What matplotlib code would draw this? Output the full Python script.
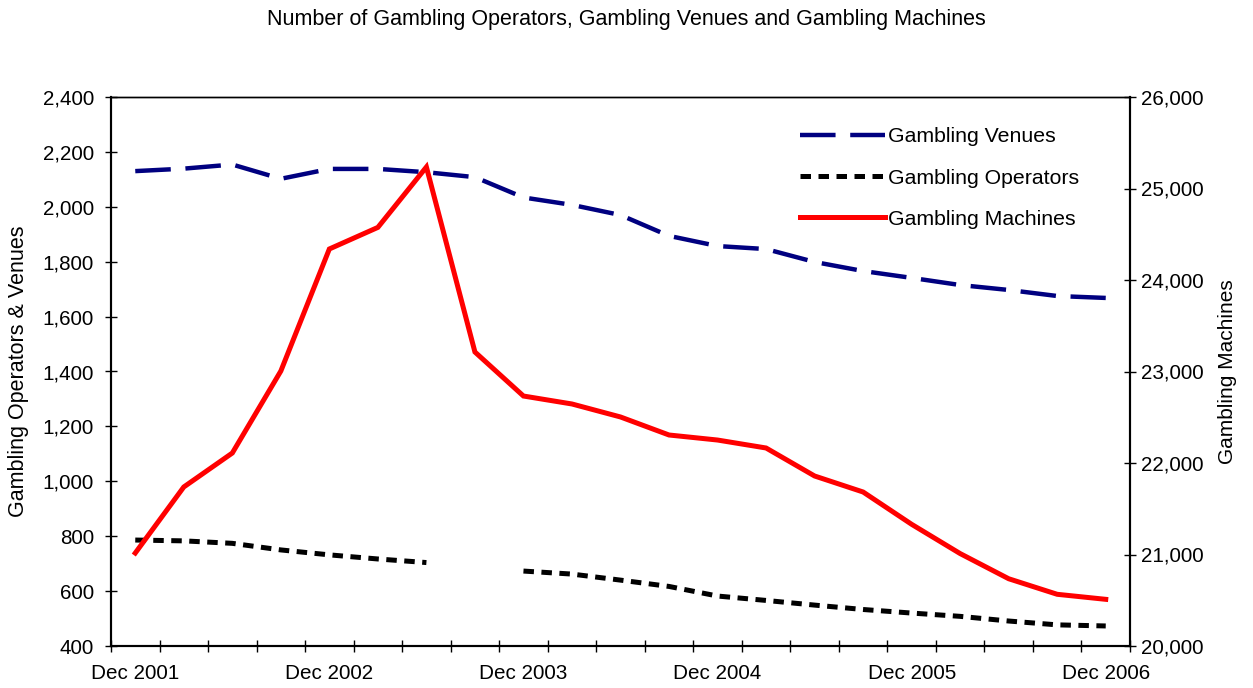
import numpy as np
import matplotlib
matplotlib.use("Agg")
import matplotlib.pyplot as plt
from matplotlib.ticker import FuncFormatter, MultipleLocator

plt.rcParams["font.family"] = ["Liberation Sans", "DejaVu Sans"]

# quarterly points, Dec 2001 .. Dec 2006
quarters = ["Dec 2001", "Mar 2002", "Jun 2002", "Sep 2002",
            "Dec 2002", "Mar 2003", "Jun 2003", "Sep 2003",
            "Dec 2003", "Mar 2004", "Jun 2004", "Sep 2004",
            "Dec 2004", "Mar 2005", "Jun 2005", "Sep 2005",
            "Dec 2005", "Mar 2006", "Jun 2006", "Sep 2006",
            "Dec 2006"]

venues = [2130, 2139, 2154, 2102, 2138, 2138, 2126, 2108, 2034, 2007, 1970,
          1894, 1857, 1846, 1799, 1766, 1741, 1715, 1697, 1675, 1668]
operators = [786, 783, 774, 750, 732, 717, 704, np.nan, 673, 662, 640,
             617, 582, 566, 549, 533, 520, 508, 491, 477, 473]
machines = [21016, 21738, 22109, 23005, 24339, 24575, 25235, 23213, 22732,
            22645, 22503, 22306, 22251, 22164, 21858, 21683, 21330, 21010,
            20735, 20565, 20510]

x = np.arange(len(quarters))
fs = 14.9

fig = plt.figure(figsize=(12.53, 6.88), dpi=100)
ax = fig.add_axes([111 / 1253, 1 - 646 / 688, 1019 / 1253, 549 / 688])
ax2 = ax.twinx()

l1, = ax.plot(x, venues, color="#000080", lw=3.2, dashes=(8, 3.3),
              dash_capstyle="butt", label="Gambling Venues")
l2, = ax.plot(x, operators, color="black", lw=3.6, dashes=(2.1, 1.5),
              dash_capstyle="butt", label="Gambling Operators")
l3, = ax2.plot(x, machines, color="#FF0000", lw=3.6, solid_joinstyle="miter",
               label="Gambling Machines")

ax.set_xlim(-0.5, len(quarters) - 0.5)
ax.set_ylim(400, 2400)
ax2.set_ylim(20000, 26000)
ax.yaxis.set_major_locator(MultipleLocator(200))
ax2.yaxis.set_major_locator(MultipleLocator(1000))
comma = FuncFormatter(lambda v, p: f"{int(v):,}")
ax.yaxis.set_major_formatter(comma)
ax2.yaxis.set_major_formatter(comma)

ax.set_xticks(x[::4])
ax.set_xticklabels(quarters[::4])
ax.set_xticks(np.arange(-0.5, len(quarters), 1), minor=True)
ax.tick_params(axis="x", which="major", length=0, pad=13, labelsize=fs)
ax.tick_params(axis="x", which="minor", direction="inout", length=8.6, width=1)
ax.tick_params(axis="y", direction="inout", length=8.6, width=1, labelsize=fs, pad=8)
ax2.tick_params(axis="y", direction="inout", length=8, width=1, labelsize=fs, pad=4)

for a in (ax, ax2):
    for s in a.spines.values():
        s.set_linewidth(1.5)
ax.spines["top"].set_linewidth(1.0)
ax2.spines["top"].set_linewidth(1.0)

ax.set_ylabel("Gambling Operators & Venues", fontsize=15.5, labelpad=10)
ax2.set_ylabel("Gambling Machines", fontsize=15.0, rotation=90, labelpad=10)

fig.text(0.5, 1 - 20 / 688,
         "Number of Gambling Operators, Gambling Venues and Gambling Machines",
         fontsize=15.5, ha="center", va="center")

ax.legend(handles=[l1, l2, l3], loc="upper left", bbox_to_anchor=(0.676, 0.945),
          frameon=False, fontsize=15.3, handlelength=4.0, handletextpad=0.14,
          labelspacing=1.05, borderpad=0, borderaxespad=0)

fig.savefig("out.png", dpi=100)
